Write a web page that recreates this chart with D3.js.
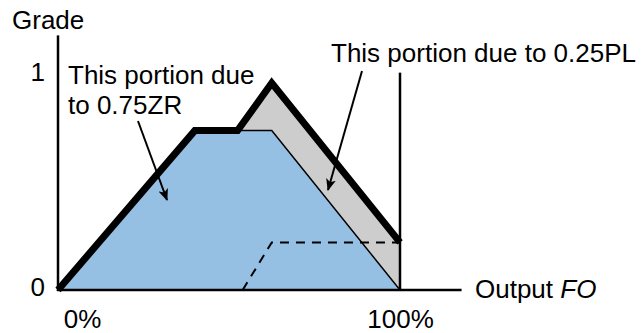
<!DOCTYPE html>
<html>
<head>
<meta charset="utf-8">
<script src="https://cdn.jsdelivr.net/npm/d3@7"></script>
<style>
  html, body { margin: 0; padding: 0; background: #fff; }
  svg { display: block; font-family: "Liberation Sans", Arial, sans-serif; }
</style>
</head>
<body>
<svg id="chart" width="641" height="333"></svg>
<script>
// Output (%) and grade values for the aggregated fuzzy output
const blueX    = [0, 40, 62.5, 100];          // 0.75 ZR (clipped, scaled) trapezoid
const blueY    = [0, 0.77, 0.77, 0];
const outlineX = [0, 40, 52.5, 62.5, 100];    // summed output envelope
const outlineY = [0, 0.77, 0.77, 1, 0.23];
const dashX    = [54, 62.5, 100];             // 0.25 PL contribution
const dashY    = [0, 0.23, 0.23];
const xTicks   = [0, 100];
const xTickLabels = ["0%", "100%"];
const yTicks   = [0, 1];
const yTickLabels = ["0", "1"];

const svg = d3.select("#chart");
const x = d3.scaleLinear().domain([0, 100]).range([58, 400]);
const y = d3.scaleLinear().domain([0, 1]).range([290, 83]);
const FS = 26;
const FONT = "Liberation Sans, Arial, sans-serif";

const pts = (xs, ys) => xs.map((v, i) => [x(v), y(ys[i])]);
const line = d3.line();

// grey area: envelope closed down to the axis
const greyPts = pts(outlineX, outlineY).concat([[x(100), y(0)]]);
svg.append("path")
  .attr("d", line(greyPts) + "Z")
  .attr("fill", "#cdcdcd")
  .attr("stroke", "#000")
  .attr("stroke-width", 1.5);

// blue trapezoid
svg.append("path")
  .attr("d", line(pts(blueX, blueY)) + "Z")
  .attr("fill", "#95bfe3")
  .attr("stroke", "#000")
  .attr("stroke-width", 1.5);

// dashed PL contribution
svg.append("path")
  .attr("d", line(pts(dashX, dashY)))
  .attr("fill", "none")
  .attr("stroke", "#000")
  .attr("stroke-width", 2)
  .attr("stroke-dasharray", "9,7");

// thick envelope
svg.append("path")
  .attr("d", line(pts(outlineX, outlineY)))
  .attr("fill", "none")
  .attr("stroke", "#000")
  .attr("stroke-width", 7)
  .attr("stroke-linejoin", "miter");

// axes lines
svg.append("line")
  .attr("x1", x(0)).attr("x2", x(0))
  .attr("y1", y(0)).attr("y2", y(1.23))
  .attr("stroke", "#000").attr("stroke-width", 2.5);
svg.append("line")
  .attr("x1", x(0) - 1).attr("x2", x(118))
  .attr("y1", y(0)).attr("y2", y(0))
  .attr("stroke", "#000").attr("stroke-width", 2.5);
svg.append("line")
  .attr("x1", x(100)).attr("x2", x(100))
  .attr("y1", y(0)).attr("y2", y(1.05))
  .attr("stroke", "#000").attr("stroke-width", 2.5);

// tick labels through d3 axes
const yAxis = d3.axisLeft(y).tickValues(yTicks).tickSize(0).tickPadding(13)
  .tickFormat((d, i) => yTickLabels[i]);
const gy = svg.append("g").attr("transform", `translate(${x(0)},0)`).call(yAxis);
gy.select(".domain").remove();
gy.selectAll("text").attr("font-size", FS).attr("font-family", FONT)
  .attr("fill", "#000").attr("dy", (d) => d === 1 ? "-0.1em" : "0.2em");

const xAxis = d3.axisBottom(x).tickValues(xTicks).tickSize(0).tickPadding(13)
  .tickFormat((d, i) => xTickLabels[i]);
const gx = svg.append("g").attr("transform", `translate(0,${y(0)})`).call(xAxis);
gx.select(".domain").remove();
gx.selectAll("text").attr("font-size", FS).attr("font-family", FONT)
  .attr("fill", "#000").attr("dy", "0.95em")
  .attr("dx", (d) => d === 0 ? 24 : 0);

// axis titles
svg.append("text").attr("x", 12).attr("y", 29).attr("font-size", FS).text("Grade");
const xt = svg.append("text").attr("x", 475).attr("y", 298).attr("font-size", FS);
xt.append("tspan").text("Output ");
xt.append("tspan").attr("font-style", "italic").text("FO");

// annotations
const ann1 = svg.append("text").attr("font-size", FS);
ann1.append("tspan").attr("x", 68).attr("y", 84).text("This portion due");
ann1.append("tspan").attr("x", 68).attr("y", 114).text("to 0.75ZR");
svg.append("text").attr("x", 331).attr("y", 62).attr("font-size", FS)
  .text("This portion due to 0.25PL");

// arrows
const defs = svg.append("defs");
defs.append("marker")
  .attr("id", "head")
  .attr("viewBox", "0 0 12 10")
  .attr("refX", 11).attr("refY", 5)
  .attr("markerWidth", 12).attr("markerHeight", 10)
  .attr("markerUnits", "userSpaceOnUse")
  .attr("orient", "auto")
  .append("path")
  .attr("d", "M0,0 L12,5 L0,10 L3,5 Z")
  .attr("fill", "#000");

const arrows = [
  [[138, 121], [167, 200]],
  [[362, 71], [328, 190]]
];
arrows.forEach(a => {
  svg.append("line")
    .attr("x1", a[0][0]).attr("y1", a[0][1])
    .attr("x2", a[1][0]).attr("y2", a[1][1])
    .attr("stroke", "#000").attr("stroke-width", 2)
    .attr("marker-end", "url(#head)");
});
</script>
</body>
</html>
